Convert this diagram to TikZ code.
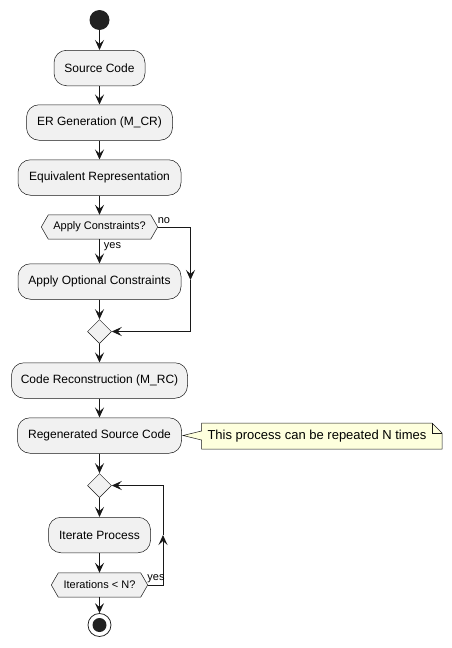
\documentclass[tikz,border=0pt]{standalone}
\usepackage{fontspec}
\setmainfont{Liberation Sans}
\usetikzlibrary{shapes.geometric,arrows.meta,backgrounds,calc}
\definecolor{boxfill}{HTML}{F1F1F1}
\definecolor{edgec}{HTML}{181818}
\definecolor{notefill}{HTML}{FEFFDD}
\definecolor{dotc}{HTML}{222222}
\begin{document}
\begin{tikzpicture}[x=1pt,y=-1pt,
  act/.style={draw=edgec, line width=0.5pt, fill=boxfill, rounded corners=12.5pt,
    minimum height=35.5pt, inner sep=0pt, font=\fontsize{12}{14}\selectfont, text=black},
  hexnode/.style={draw=none, minimum height=24pt, inner sep=0pt, font=\fontsize{11}{13}\selectfont, text=black},
  hexshape/.style={draw=edgec, line width=0.5pt, fill=boxfill},
  merge/.style={diamond, draw=edgec, line width=0.5pt, fill=boxfill, minimum width=24pt, minimum height=24pt, inner sep=0pt},
  arr/.style={draw=edgec, line width=1pt, -{Stealth[length=10pt,width=9pt,inset=4pt]}},
  lbl/.style={font=\fontsize{11}{13}\selectfont, text=black, inner sep=0pt},
  notetext/.style={font=\fontsize{13}{15}\selectfont, text=black, inner sep=0pt}]
\useasboundingbox (0,0) rectangle (452,648);

% nodes
\node[circle, fill=dotc, minimum size=20pt, inner sep=0pt] (start) at (99.5,20) {};
\node[act, minimum width=91pt] (src) at (99.5,68) {Source Code};
\node[act, minimum width=146pt] (erg) at (99.5,122.5) {ER Generation (M\_CR)};
\node[act, minimum width=163pt] (eqr) at (99.5,177.5) {Equivalent Representation};
\node[hexnode, minimum width=116pt] (q1) at (99.5,227) {Apply Constraints?};
\node[act, minimum width=163pt] (aoc) at (99.5,281.5) {Apply Optional Constraints};
\node[merge] (m1) at (99.5,331.5) {};
\node[act, minimum width=176pt] (crc) at (99.5,380.5) {Code Reconstruction (M\_RC)};
\node[act, minimum width=164pt] (rsc) at (99.5,435.5) {Regenerated Source Code};
\node[merge] (m2) at (99.5,485.5) {};
\node[act, minimum width=102pt] (itp) at (99.5,535) {Iterate Process};
\node[hexnode, minimum width=96pt] (q2) at (99.5,585) {Iterations < N?};
\node[circle, draw=edgec, line width=0.75pt, fill=white, minimum size=23pt, inner sep=0pt] (stop) at (99.5,625) {};
\fill[dotc] (stop.center) circle (7pt);

\node[notetext] (note) at (317,436.5) {This process can be repeated N times};

\begin{scope}[on background layer]
  \fill[white] (0,0) rectangle (452,648);
  \filldraw[hexshape] (q1.west) -- ([xshift=7pt]q1.north west) -- ([xshift=-7pt]q1.north east)
    -- (q1.east) -- ([xshift=-7pt]q1.south east) -- ([xshift=7pt]q1.south west) -- cycle;
  \filldraw[hexshape] (q2.west) -- ([xshift=7pt]q2.north west) -- ([xshift=-7pt]q2.north east)
    -- (q2.east) -- ([xshift=-7pt]q2.south east) -- ([xshift=7pt]q2.south west) -- cycle;
  \filldraw[draw=edgec, line width=0.5pt, fill=notefill]
    (201.5,423) -- (432,423) -- (442,433) -- (442,449) -- (201.5,449) -- (201.5,440)
    -- (183,435.5) -- (201.5,431) -- cycle;
  \draw[draw=edgec, line width=0.5pt] (432,423) -- (432,433) -- (442,433);
\end{scope}

% connectors
\draw[arr] (start) -- (src);
\draw[arr] (src) -- (erg);
\draw[arr] (erg) -- (eqr);
\draw[arr] (eqr) -- (q1.north);
\draw[arr] (q1.south) -- (aoc);
\draw[arr] (aoc) -- (m1);
\coordinate (nmid) at (190.5,280);
\draw[arr] (q1.east) -| (nmid);
\draw[arr] (nmid) |- (m1.east);
\draw[arr] (m1) -- (crc);
\draw[arr] (crc) -- (rsc);
\draw[arr] (rsc) -- (m2);
\draw[arr] (m2) -- (itp);
\draw[arr] (itp) -- (q2.north);
\coordinate (lmid) at (163,535);
\draw[arr] (q2.east) -| (lmid);
\draw[arr] (lmid) |- (m2.east);
\draw[arr] (q2.south) -- (stop);

% labels
\node[lbl] (lno) at (164,220.5) {no};
\node[lbl] (lyes1) at (112.5,247) {yes};
\node[lbl] (lyes2) at (156,579) {yes};
\end{tikzpicture}
\end{document}
